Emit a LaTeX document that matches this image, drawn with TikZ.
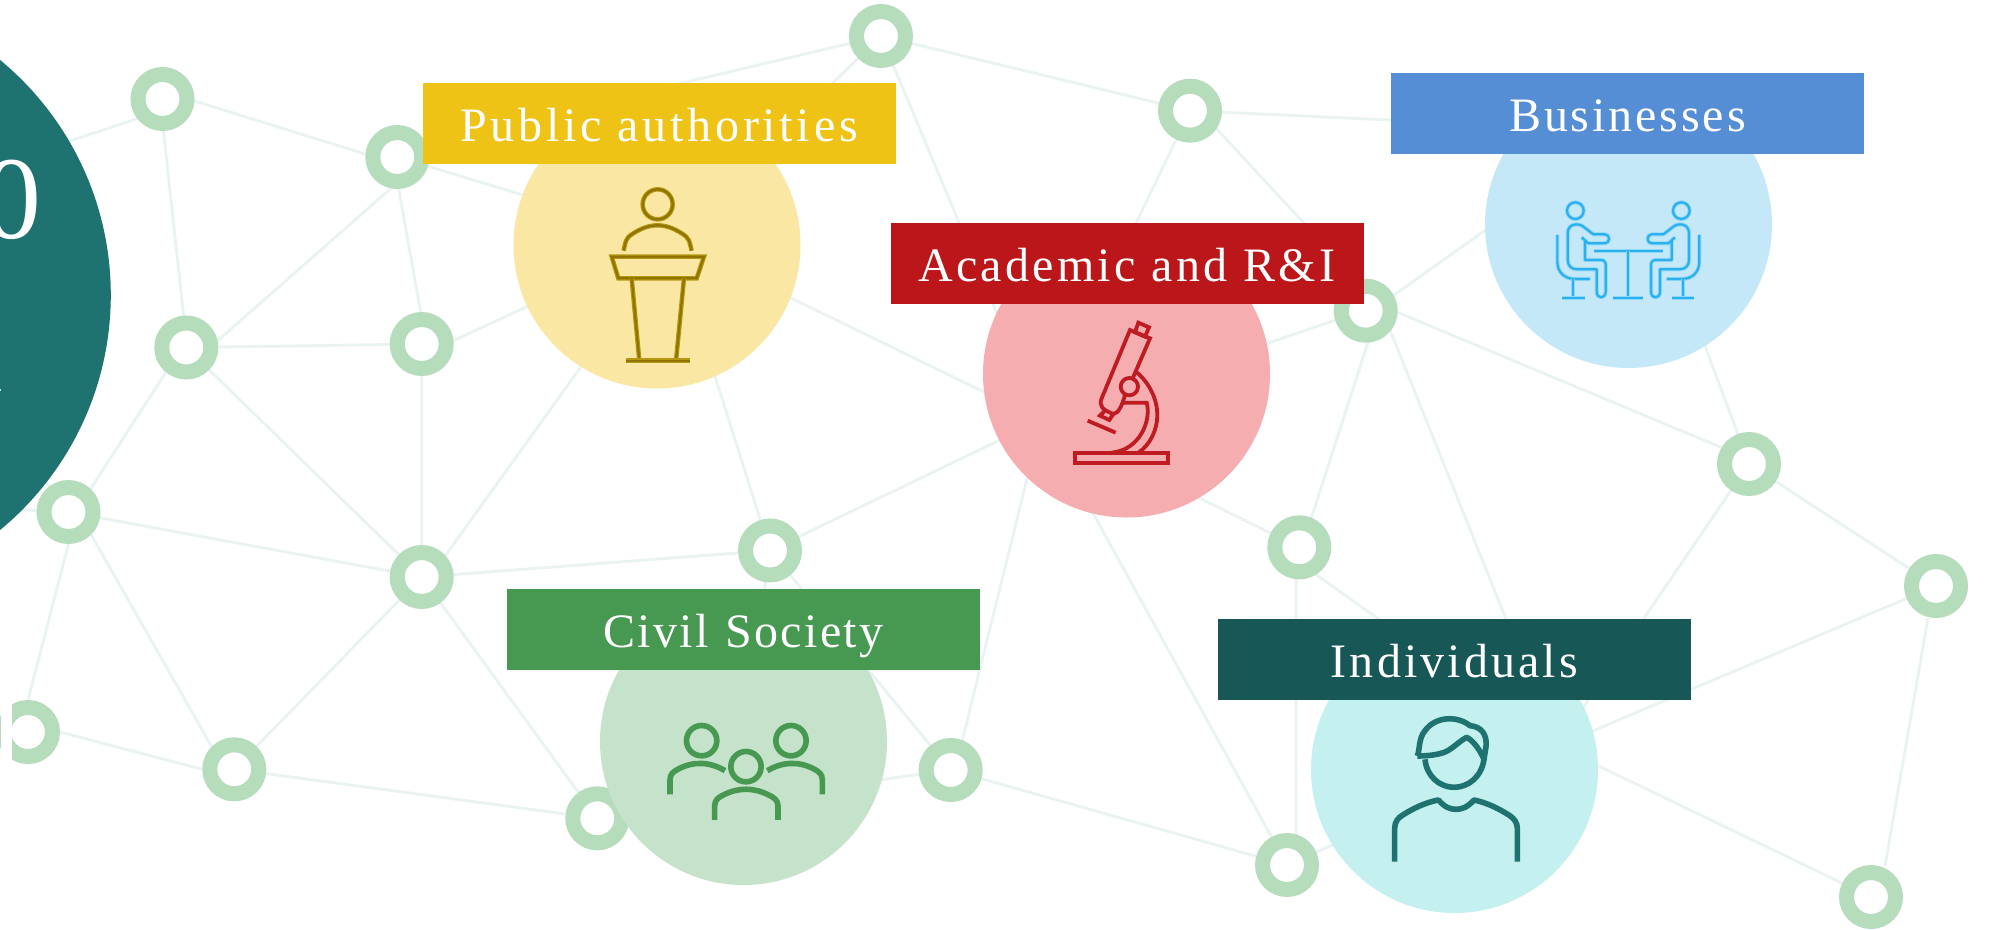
\documentclass[tikz,border=0pt]{standalone}
\usepackage{fontspec}
\setmainfont{Liberation Serif}
\pgfdeclarelayer{bg}
\pgfsetlayers{bg,main}
\definecolor{ringc}{HTML}{B5DCBB}
\definecolor{linec}{HTML}{E9F3F1}
\definecolor{tealc}{HTML}{1E7371}
\definecolor{yelA}{HTML}{EEC315}\definecolor{yelB}{HTML}{FAE7A3}
\definecolor{bluA}{HTML}{558ED5}\definecolor{bluB}{HTML}{C5E8F9}
\definecolor{redA}{HTML}{BB171A}\definecolor{redB}{HTML}{F5ADB0}
\definecolor{grnA}{HTML}{479850}\definecolor{grnB}{HTML}{C4E3CA}
\definecolor{cyaA}{HTML}{175755}\definecolor{cyaB}{HTML}{C4F0EF}
\definecolor{podH}{HTML}{B59810}\definecolor{podC}{HTML}{8F7500}
\definecolor{micC}{HTML}{BE1C22}
\definecolor{bizH}{HTML}{8FD8F8}\definecolor{bizC}{HTML}{2BB0EE}
\tikzset{
  ring/.style={circle,draw=ringc,line width=15pt,fill=white,minimum size=49pt,inner sep=0pt},
  edge/.style={draw=linec,line width=2.8pt},
  disc/.style={circle,minimum size=287pt,inner sep=0pt},
  tag/.style={inner sep=0pt,text=white,text width=473pt,align=center,text height=58.7pt,text depth=22.3pt,
    font=\fontsize{48}{50}\selectfont},
  podium/.style={draw=podH,double=podC,double distance=2.3pt,line width=1.1pt},
  micro/.style={draw=micC,line width=3.8pt},
  biz/.style={draw=bizH,double=bizC,double distance=2.2pt,line width=.9pt},
  civ/.style={draw=grnA,line width=5.6pt},
  indiv/.style={draw=tealc,line width=5.6pt,line join=round}
}
\newcommand{\bizhalf}{%
  \draw[biz] (136,92) circle (25);
  \draw[biz,line join=round] (155,172) -- (175,190) -- (225,190) .. controls (241,190) and (241,163) .. (225,163) -- (190,163) -- (160,140) .. controls (145,128) and (113,130) .. (113,160) -- (113,240) .. controls (113,258) and (125,268) .. (142,268) -- (200,268) -- (200,335) .. controls (200,358) and (227,358) .. (227,335) -- (227,255) .. controls (227,245) and (222,240) .. (212,240) -- (165,240) -- (165,180);
  \draw[biz] (82,165) -- (82,245) .. controls (82,278) and (105,297) .. (135,297) -- (180,297);
  \draw[biz] (130,297) -- (130,355);
  \draw[biz] (97,355) -- (165,355);
}
\begin{document}
\begin{tikzpicture}[x=1pt,y=-1pt]
\useasboundingbox (0,0) rectangle (1989,929);
\begin{pgfonlayer}{bg}
\fill[white] (0,0) rectangle (1989,929);
\end{pgfonlayer}
% network rings
\node[ring] (n1) at (162.5,99) {};
\node[ring] (n2) at (397.3,157) {};
\node[ring] (n3) at (186.3,347.5) {};
\node[ring] (n4) at (421.7,344) {};
\node[ring] (n5) at (68.5,512) {};
\node[ring] (n6) at (421.7,577) {};
\node[ring] (n7) at (770,550.5) {};
\node[ring] (n8) at (881,36) {};
\node[ring] (n9) at (1190,110.7) {};
\node[ring] (n10) at (1365.7,310.7) {};
\node[ring] (n11) at (1749,464) {};
\node[ring] (n12) at (1936,586) {};
\node[ring] (n13) at (1299.3,547.3) {};
\node[ring] (n14) at (1287,865) {};
\node[ring] (n15) at (1871,897) {};
\node[ring] (n16) at (950.7,770) {};
\node[ring] (n17) at (597.3,818.3) {};
\node[ring] (n18) at (234.3,769.3) {};
\node[ring] (n19) at (28,732) {};
\fill[white] (1,690) rectangle (11.5,775);
% hidden ends of connectors
\coordinate (hubY) at (672,240);
\coordinate (hubR) at (1041.5,420);
\coordinate (hubB) at (1625,131);
\coordinate (hubC) at (1557,746);
\coordinate (hubG) at (735,800);
\coordinate (hubT) at (560,112);
\coordinate (hubX) at (1380,305);
\coordinate (c1) at (-20,508);
\coordinate (c2) at (0,421);
\coordinate (c3) at (0,164);
\coordinate (v1) at (1296,560);
\coordinate (v2) at (1296,850);
\coordinate (a1) at (162,110.5);
\coordinate (a2) at (162.5,91);
\coordinate (a3) at (397.3,164);
\coordinate (a4) at (160,99);
\coordinate (a5) at (187,347);
\coordinate (a6) at (397,183);
\coordinate (a7) at (190,365);
\coordinate (a8) at (393,157);
\coordinate (a9) at (423,325);
\coordinate (a10) at (186,341);
\coordinate (a11) at (68,524);
\coordinate (a12) at (422,355);
\coordinate (a13) at (430,577);
\coordinate (a14) at (1200,111);
\coordinate (a15) at (1749,459);
\coordinate (a16) at (1302,547);
\coordinate (a17) at (1290,556);
\coordinate (a18) at (955,770);
\coordinate (a19) at (1928,618);
\coordinate (a20) at (1885,866);
% connectors
\begin{pgfonlayer}{bg}
\path[edge]
 (a1) -- (c3) (a2) -- (a3) (a4) -- (a5)
 (a6) -- (a7) (a8) -- (a9) (n2) -- (hubY)
 (n3) -- (n4) (a10) -- (a11) (n3) -- (n6)
 (n4) -- (n6) (a12) -- (hubY)
 (n5) -- (c1) (n5) -- (c2) (n5) -- (n6)
 (n5.south east) -- (n18.north west) (n5.south) -- (n19.north)
 (a13) -- (hubY) (n6) -- (n7) (n6) -- (n17) (n6) -- (n18)
 (n7) -- (hubY) (n7) -- (hubR) (n7) -- (hubG) (n7) -- (n16)
 (n8) -- (n9) (n8) -- (hubY) (n8) -- (hubR) (n8) -- (hubT)
 (n9) -- (hubR) (a14) -- (hubX) (n9) -- (hubB)
 (hubX) -- (hubR) (hubX) -- (hubB) (hubX) -- (a15) (hubX) -- (a16) (hubX) -- (hubC)
 (n11) -- (hubB) (n11) -- (n12) (n11) -- (hubC)
 (n12) -- (hubC) (a19) -- (a20)
 (n13) -- (hubR) (v1) -- (v2) (a17) -- (hubC)
 (n14) -- (hubR) (n14) -- (n16) (n14) -- (hubC)
 (n15) -- (hubC)
 (a18) -- (hubR) (n16) -- (hubG)
 (n17) -- (n18) (n18.west) -- (n19.east)
 (hubY) -- (hubR);
\end{pgfonlayer}
% big teal disc
\node[circle,fill=tealc,minimum size=609.6pt,inner sep=0pt] (big) at (-194,295) {};
\node[anchor=base east,inner sep=0pt,text=white,font=\fontsize{118}{120}\selectfont] (bigt) at (42,238) {0};
\fill[white!75!tealc] (0,388.5) rectangle (1.3,391);
% discs
\node[disc,fill=yelB] (dY) at (657,245) {};
\node[disc,fill=redB] (dR) at (1126.5,374) {};
\node[disc,fill=bluB] (dB) at (1628.5,224.5) {};
\node[disc,fill=grnB] (dG) at (743.5,741.5) {};
\node[disc,fill=cyaB] (dC) at (1454.5,769.5) {};
% labels
\node[tag,fill=yelA] (tY) at (659,123.5) {\addfontfeature{LetterSpace=7.8}Public authorities};
\node[tag,fill=redA] (tR) at (1127,263.5) {\addfontfeature{LetterSpace=6.8}Academic and R\&I};
\node[tag,fill=bluA] (tB) at (1627.5,113.5) {\addfontfeature{LetterSpace=6}Businesses};
\node[tag,fill=grnA] (tG) at (743.5,629.5) {\addfontfeature{LetterSpace=5.1}Civil Society};
\node[tag,fill=cyaA] (tC) at (1454.5,659) {\addfontfeature{LetterSpace=6.5}Individuals};
% podium icon
\begin{scope}[shift={(580,170)},x=.3333pt,y=-.3333pt]
 \draw[podium] (233,103) circle (45);
 \draw[podium] (131,242) .. controls (137,215) and (135,205) .. (160,190) .. controls (210,158) and (255,158) .. (305,190) .. controls (330,205) and (328,215) .. (335,242);
 \draw[podium] (95,260) -- (372,260) -- (350,325) -- (115,325) -- cycle;
 \draw[podium] (155,325) -- (178,572);
 \draw[podium] (312,325) -- (288,572);
 \draw[podium] (137,572) -- (330,572);
\end{scope}
% microscope icon
\begin{scope}[shift={(1050,300)},x=.3333pt,y=-.3333pt]
 \draw[micro] (265,68) -- (297,82) -- (285,110) -- (255,97) -- cycle;
 \draw[micro] (248,235) -- (300,115) -- (240,90) -- (155,295) .. controls (145,320) and (160,330) .. (190,342) .. controls (205,340) and (215,320) .. (225,285);
 \draw[micro] (238,260) circle (26);
 \draw[micro] (258,215) .. controls (300,250) and (322,300) .. (322,345) .. controls (322,390) and (300,435) .. (265,458);
 \draw[micro] (222,308) -- (290,308) .. controls (305,360) and (270,450) .. (185,458);
 \draw[micro] (75,458) rectangle (355,488);
 \draw[micro] (165,332) -- (150,347) -- (178,360) -- (190,342);
 \draw[micro] (113,362) -- (197,398);
\end{scope}
% meeting icon
\begin{scope}[shift={(1628.33,180)},x=.3333pt,y=-.3333pt]
 \begin{scope}[shift={(-295,0)}]\bizhalf\end{scope}
 \draw[biz] (-103,213) -- (105,213);
 \draw[biz] (0,213) -- (0,355);
 \draw[biz] (-45,355) -- (45,355);
\end{scope}
\begin{scope}[shift={(1628.33,180)},x=-.3333pt,y=-.3333pt]
 \begin{scope}[shift={(-295,0)}]\bizhalf\end{scope}
\end{scope}
% people icon
\begin{scope}[shift={(650,700)},x=.3333pt,y=-.3333pt]
 \draw[civ] (155,122) circle (45.5);
 \draw[civ] (423,122) circle (45.5);
 \draw[civ] (288,200) circle (45.5);
 \draw[civ] (60,283) -- (60,240) .. controls (60,222) and (70,215) .. (85,207) .. controls (130,183) and (180,185) .. (225,212);
 \draw[civ] (517,283) -- (517,240) .. controls (517,222) and (507,215) .. (492,207) .. controls (447,183) and (397,185) .. (352,212);
 \draw[civ] (194,360) -- (194,318) .. controls (194,300) and (205,292) .. (220,285) .. controls (265,262) and (311,262) .. (356,285) .. controls (371,292) and (384,300) .. (384,318) -- (384,360);
\end{scope}
% person icon
\begin{scope}[shift={(1370,700)},x=.3333pt,y=-.3333pt]
 \draw[indiv] (165,178) .. controls (170,230) and (210,262) .. (252,262) .. controls (295,262) and (335,230) .. (342,178);
 \draw[indiv] (142,168) .. controls (150,150) and (145,115) .. (165,92) .. controls (195,50) and (260,45) .. (300,77) .. controls (335,80) and (352,105) .. (348,140) -- (342,178) .. controls (330,150) and (310,122) .. (290,112) .. controls (265,125) and (245,150) .. (220,158) .. controls (195,166) and (165,168) .. (142,168);
 \draw[indiv] (74,485) -- (74,385) .. controls (74,365) and (85,352) .. (100,344) .. controls (130,325) and (165,308) .. (205,300) .. controls (225,322) and (240,328) .. (258,328) .. controls (276,328) and (292,322) .. (312,300) .. controls (350,308) and (385,325) .. (418,346) .. controls (432,355) and (442,368) .. (442,385) -- (442,485);
\end{scope}
\end{tikzpicture}
\end{document}
